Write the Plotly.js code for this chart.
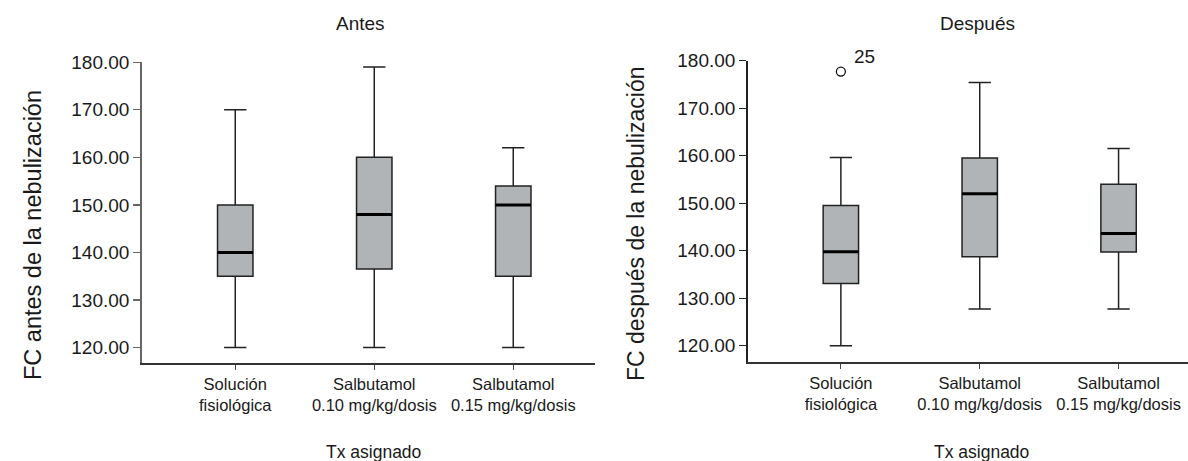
<!DOCTYPE html>
<html>
<head>
<meta charset="utf-8">
<script src="https://cdn.plot.ly/plotly-3.0.1.min.js"></script>
<style>html,body{margin:0;padding:0;background:#fff;}#chart{width:1188px;height:461px;}</style>
</head>
<body>
<div id="chart"></div>
<script>
// ---- data ----
const categories = ['Solución<br>fisiológica', 'Salbutamol<br>0.10 mg/kg/dosis', 'Salbutamol<br>0.15 mg/kg/dosis'];
const antesLower  = [120, 120, 120];
const antesQ1     = [135, 136.5, 135];
const antesMedian = [140, 148, 150];
const antesQ3     = [150, 160, 154];
const antesUpper  = [170, 179, 162];

const despLower  = [120, 127.7, 127.7];
const despQ1     = [133.1, 138.7, 139.7];
const despMedian = [139.8, 152, 143.6];
const despQ3     = [149.5, 159.5, 154];
const despUpper  = [159.6, 175.4, 161.5];

const outlierCat = [categories[0]];
const outlierVal = [177.7];
const outlierLabel = ['25'];

const panelTitles = ['Antes', 'Después'];
const yTitles = ['FC antes de la nebulización', 'FC después de la nebulización'];
const xTitle = 'Tx asignado';

// ---- style ----
const FONT = '"Liberation Sans", Arial, sans-serif';
const TXT = '#1a1a1a';
const BOXW = 0.255;

function boxTrace(xa, ya, lo, q1, med, q3, up) {
  return {
    type: 'box', x: categories, xaxis: xa, yaxis: ya,
    lowerfence: lo, q1: q1, median: med, q3: q3, upperfence: up,
    width: BOXW, whiskerwidth: 0.63, boxpoints: false,
    fillcolor: '#b1b4b6', line: {color: '#222', width: 1.5},
    showlegend: false, hoverinfo: 'skip'
  };
}
function medTrace(xa, ya, med) {
  return {
    type: 'box', x: categories, xaxis: xa, yaxis: ya,
    lowerfence: med, q1: med, median: med, q3: med, upperfence: med,
    width: BOXW, whiskerwidth: 0, boxpoints: false,
    fillcolor: 'rgba(0,0,0,0)', line: {color: '#000', width: 3},
    showlegend: false, hoverinfo: 'skip'
  };
}

const data = [
  boxTrace('x', 'y', antesLower, antesQ1, antesMedian, antesQ3, antesUpper),
  medTrace('x', 'y', antesMedian),
  boxTrace('x2', 'y2', despLower, despQ1, despMedian, despQ3, despUpper),
  medTrace('x2', 'y2', despMedian),
  {
    type: 'scatter', mode: 'markers', x: outlierCat, y: outlierVal, xaxis: 'x2', yaxis: 'y2',
    marker: {symbol: 'circle-open', size: 9, color: '#111', line: {width: 1.3}},
    showlegend: false, hoverinfo: 'skip'
  }
];

function xaxis(domain, range, anchor) {
  return {
    domain: domain, range: range, anchor: anchor, type: 'category',
    showline: true, linecolor: '#333', linewidth: 1.5,
    ticks: 'outside', ticklen: 5, tickcolor: '#444', tickwidth: 1,
    showgrid: false, zeroline: false, tickangle: 0,
    tickfont: {family: FONT, size: 16.5, color: TXT}
  };
}
function yaxis(domain, range, anchor, lc) {
  return {
    domain: domain, range: range, anchor: anchor,
    showline: true, linecolor: lc, linewidth: 1.5,
    ticks: 'outside', ticklen: 7, tickcolor: lc, tickwidth: 1.2,
    tick0: 120, dtick: 10, tickformat: '.2f',
    showgrid: false, zeroline: false,
    tickfont: {family: FONT, size: 19, color: TXT}
  };
}

const layout = {
  width: 1188, height: 461,
  margin: {l: 0, r: 0, t: 0, b: 0},
  paper_bgcolor: '#fff', plot_bgcolor: '#fff',
  xaxis: xaxis([141.7/1188, 595/1188], [-0.673, 2.588], 'y'),
  yaxis: yaxis([1 - 363.3/461, 1 - 62.3/461], [116.68, 180], 'x', '#666'),
  xaxis2: xaxis([747.7/1188, 1], [-0.671, 2.5], 'y2'),
  yaxis2: yaxis([1 - 362.3/461, 1 - 60.7/461], [116.5, 180], 'x2', '#222'),
  annotations: [
    {text: panelTitles[0], xref: 'paper', yref: 'paper', x: 360/1188, y: 1 - 23/461, xanchor: 'center', yanchor: 'middle', showarrow: false, font: {family: FONT, size: 19, color: TXT}},
    {text: panelTitles[1], xref: 'paper', yref: 'paper', x: 977.5/1188, y: 1 - 23/461, xanchor: 'center', yanchor: 'middle', showarrow: false, font: {family: FONT, size: 19, color: TXT}},
    {text: xTitle, xref: 'paper', yref: 'paper', x: 373.5/1188, y: 1 - 452/461, xanchor: 'center', yanchor: 'middle', showarrow: false, font: {family: FONT, size: 17.5, color: TXT}},
    {text: xTitle, xref: 'paper', yref: 'paper', x: 981/1188, y: 1 - 452/461, xanchor: 'center', yanchor: 'middle', showarrow: false, font: {family: FONT, size: 17.5, color: TXT}},
    {text: yTitles[0], xref: 'paper', yref: 'paper', x: 33/1188, y: 1 - 235/461, xanchor: 'center', yanchor: 'middle', textangle: -90, showarrow: false, font: {family: FONT, size: 23.5, color: TXT}},
    {text: yTitles[1], xref: 'paper', yref: 'paper', x: 636/1188, y: 1 - 224/461, xanchor: 'center', yanchor: 'middle', textangle: -90, showarrow: false, font: {family: FONT, size: 23, color: TXT}},
    {text: outlierLabel[0], xref: 'x2', yref: 'y2', x: outlierCat[0], y: outlierVal[0], xshift: 24, yshift: 15, xanchor: 'center', yanchor: 'middle', showarrow: false, font: {family: FONT, size: 19, color: TXT}}
  ]
};

Plotly.newPlot('chart', data, layout, {staticPlot: true, displayModeBar: false});
</script>
</body>
</html>
